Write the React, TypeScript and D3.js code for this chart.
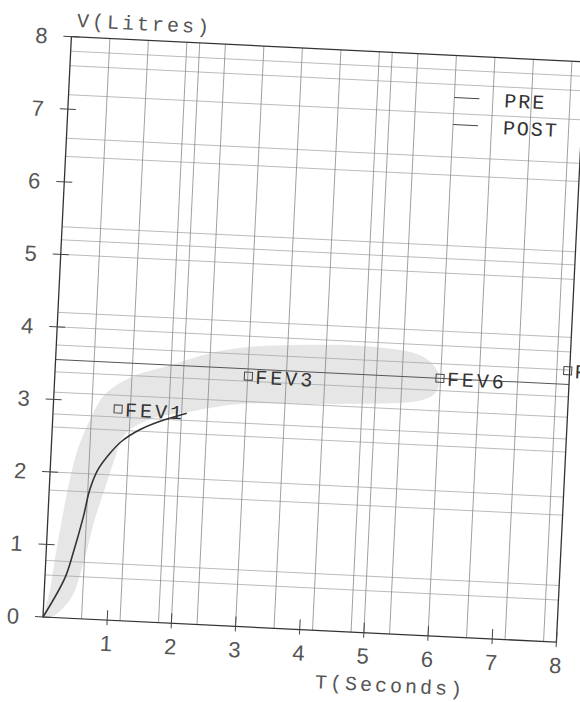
import React from "react";
import {scaleLinear, line, curveCatmullRom, curveCatmullRomClosed} from "d3";

// spirometry volume/time plot (scan is tilted a little, so the whole plot is rotated)
const xTicks = [1, 2, 3, 4, 5, 6, 7, 8];
const yTicks = [0, 1, 2, 3, 4, 5, 6, 7, 8];

// paper grid lines
const gridT = [0.6, 1.2, 1.8, 2.0, 2.4, 3.0, 3.6, 4.2, 4.8, 5.0, 5.4, 6.0, 6.6, 7.2, 7.8];
const gridV = [0.58, 0.78, 1.75, 2.0, 2.62, 2.8, 3.1, 3.38, 3.75, 4.0, 4.2, 5.0, 5.2, 5.38, 6.35, 6.6, 7.2, 7.6, 7.8];
const refLineV = 3.55;

// PRE curve: [seconds, litres]
const preCurve = [
  [0, 0], [0.31, 0.55], [0.42, 0.9], [0.55, 1.4], [0.63, 1.78], [0.74, 2.06],
  [0.92, 2.3], [1.09, 2.47], [1.36, 2.64], [1.64, 2.76], [2.08, 2.9]
];

// shaded predicted range
const bandUpper = [
  [0.03, 0.03], [0.09, 0.38], [0.14, 0.79], [0.22, 1.35], [0.31, 1.9], [0.41, 2.32],
  [0.58, 2.74], [0.79, 3.1], [1.17, 3.35], [1.73, 3.53], [2.65, 3.8], [3.89, 3.92],
  [4.92, 3.94], [5.7, 3.84], [5.97, 3.6]
];
const bandLower = [
  [5.94, 3.36], [5.73, 3.24], [4.44, 3.13], [2.89, 3.06], [2.12, 2.92], [1.51, 2.79],
  [1.13, 2.56], [0.99, 2.21], [0.86, 1.79], [0.73, 1.38], [0.6, 0.82], [0.41, 0.26], [0.11, 0.0]
];

const markerLabels = ["FEV1", "FEV3", "FEV6", "FVC"];
const markerT = [1.01, 3.01, 5.99, 7.97];
const markerV = [2.91, 3.45, 3.55, 3.74];

const legendItems = ["PRE", "POST"];

export default function App() {
  const width = 514;
  const height = 581;
  const originX = 43;
  const originY = 617;
  const angle = 2.8;

  const xScale = scaleLinear().domain([0, 8]).range([0, width]);
  const yScale = scaleLinear().domain([0, 8]).range([0, -height]);

  const curve = line()
    .x(d => xScale(d[0]))
    .y(d => yScale(d[1]))
    .curve(curveCatmullRom);
  const band = line()
    .x(d => xScale(d[0]))
    .y(d => yScale(d[1]))
    .curve(curveCatmullRomClosed);

  const mono = "'Liberation Mono', 'DejaVu Sans Mono', monospace";
  const sans = "'Liberation Sans', Arial, sans-serif";

  return (
    <svg width={580} height={702} style={{position: 'absolute', left: 0, top: 0, background: 'white'}}>
      <g transform={`translate(${originX},${originY}) rotate(${angle})`}>
        <path d={band([...bandUpper, ...bandLower])} fill={"#e6e6e6"} stroke={"none"}/>

        {gridV.map(v => (
          <line key={'h' + v} x1={0} x2={width} y1={yScale(v)} y2={yScale(v)} stroke={"#ababab"} strokeWidth={0.8}/>
        ))}
        {gridT.map(t => (
          <line key={'v' + t} x1={xScale(t)} x2={xScale(t)} y1={0} y2={-height} stroke={"#8a8a8a"} strokeWidth={0.8}/>
        ))}
        <line x1={0} x2={width} y1={yScale(refLineV)} y2={yScale(refLineV)} stroke={"#555"} strokeWidth={1}/>

        {/* frame */}
        <rect x={0} y={-height} width={width} height={height} fill={"none"} stroke={"#333"} strokeWidth={1.3}/>

        {yTicks.map(v => (
          <g key={'yt' + v} transform={`translate(0,${yScale(v)})`}>
            <line x1={-8} x2={8} stroke={"#444"}/>
            <text x={-30} dy={"0.36em"} style={{textAnchor: 'middle', fontSize: '22px', fontFamily: sans}} fill={"#555"}>
              {v}
            </text>
          </g>
        ))}
        {xTicks.map(t => (
          <g key={'xt' + t} transform={`translate(${xScale(t)},0)`}>
            <line y1={5} y2={-10} stroke={"#444"}/>
            <text y={31} style={{textAnchor: 'middle', fontSize: '22px', fontFamily: sans}} fill={"#555"}>
              {t}
            </text>
          </g>
        ))}

        <text x={5} y={-height - 10} style={{fontSize: '20px', fontFamily: mono, letterSpacing: '3px'}} fill={"#555"}>
          {"V(Litres)"}
        </text>
        <text x={xScale(4.28)} y={58} style={{fontSize: '20px', fontFamily: mono, letterSpacing: '3px'}} fill={"#555"}>
          {"T(Seconds)"}
        </text>

        <path d={curve(preCurve)} fill={"none"} stroke={"#333"} strokeWidth={1.6}/>

        {markerLabels.map((label, i) => (
          <g key={label} transform={`translate(${xScale(markerT[i])},${yScale(markerV[i])})`}>
            <rect x={-4} y={-4} width={8} height={8} fill={"none"} stroke={"#444"} strokeWidth={1}/>
            <text x={7} dy={"0.36em"} style={{fontSize: '20px', fontFamily: mono, letterSpacing: '3px'}} fill={"#333"}>
              {label}
            </text>
          </g>
        ))}

        {legendItems.map((label, i) => (
          <g key={label} transform={`translate(${xScale(6.0)},${yScale(7.42) + i * 27})`}>
            <line x1={0} x2={25} stroke={"#444"} strokeWidth={1}/>
            <text x={50} dy={"0.36em"} style={{fontSize: '20px', fontFamily: mono, letterSpacing: '2px'}} fill={"#333"}>
              {label}
            </text>
          </g>
        ))}
      </g>
    </svg>
  );
}
